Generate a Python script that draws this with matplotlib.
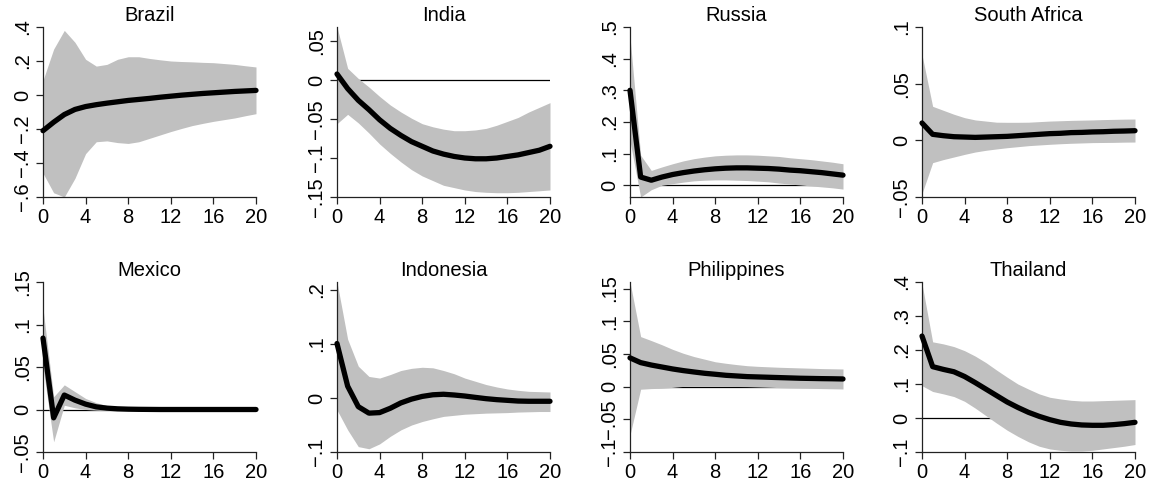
import numpy as np
import matplotlib
matplotlib.use("Agg")
import matplotlib.pyplot as plt
from matplotlib.ticker import FixedLocator, FuncFormatter

plt.rcParams["font.family"] = ["Liberation Sans", "DejaVu Sans"]

# ── Data ─────────────────────────────────────────────────────────────────────
horizon = np.arange(21)

countries = ["Brazil", "India", "Russia", "South Africa",
             "Mexico", "Indonesia", "Philippines", "Thailand"]

brazil_irf = [-0.21, -0.16, -0.115, -0.085, -0.068, -0.057, -0.048, -0.040, -0.032, -0.026, -0.020,
              -0.013, -0.007, -0.001, 0.004, 0.009, 0.013, 0.017, 0.021, 0.024, 0.027]
brazil_hi = [0.086, 0.27, 0.38, 0.31, 0.21, 0.17, 0.18, 0.21, 0.225, 0.225, 0.215,
             0.207, 0.20, 0.197, 0.195, 0.192, 0.19, 0.185, 0.18, 0.172, 0.165]
brazil_lo = [-0.46, -0.575, -0.60, -0.49, -0.345, -0.275, -0.27, -0.28, -0.285, -0.275, -0.255,
             -0.235, -0.215, -0.197, -0.18, -0.167, -0.155, -0.145, -0.135, -0.122, -0.11]

india_irf = [0.0077, -0.011, -0.026, -0.038, -0.051, -0.062, -0.071, -0.079, -0.085, -0.091, -0.095,
             -0.098, -0.100, -0.101, -0.101, -0.100, -0.098, -0.096, -0.093, -0.090, -0.085]
india_hi = [0.068, 0.015, 0.002, -0.009, -0.021, -0.032, -0.041, -0.049, -0.056, -0.060, -0.063,
            -0.065, -0.065, -0.064, -0.062, -0.058, -0.053, -0.048, -0.041, -0.035, -0.029]
india_lo = [-0.056, -0.044, -0.055, -0.068, -0.082, -0.094, -0.105, -0.115, -0.123, -0.129, -0.135,
            -0.138, -0.141, -0.143, -0.144, -0.1445, -0.1445, -0.144, -0.143, -0.142, -0.141]

russia_irf = [0.30, 0.026, 0.016, 0.026, 0.034, 0.040, 0.045, 0.049, 0.052, 0.054, 0.055,
              0.055, 0.054, 0.053, 0.051, 0.048, 0.046, 0.043, 0.040, 0.036, 0.032]
russia_hi = [0.47, 0.095, 0.047, 0.058, 0.068, 0.077, 0.084, 0.089, 0.093, 0.095, 0.096,
             0.096, 0.095, 0.093, 0.091, 0.087, 0.084, 0.081, 0.077, 0.073, 0.068]
russia_lo = [0.14, -0.037, -0.014, 0.0, 0.005, 0.010, 0.014, 0.016, 0.017, 0.017, 0.016,
             0.015, 0.013, 0.011, 0.007, 0.004, 0.001, -0.002, -0.005, -0.008, -0.012]

safrica_irf = [0.0153, 0.0053, 0.0041, 0.0032, 0.0029, 0.0026, 0.0029, 0.0032, 0.0035, 0.0041, 0.0047,
               0.0053, 0.0059, 0.0062, 0.0068, 0.0070, 0.0074, 0.0076, 0.0080, 0.0082, 0.0085]
safrica_hi = [0.0756, 0.030, 0.0265, 0.023, 0.020, 0.018, 0.017, 0.016, 0.0159, 0.0159, 0.016,
              0.0165, 0.017, 0.0173, 0.0176, 0.0178, 0.018, 0.0183, 0.0185, 0.0187, 0.0188]
safrica_lo = [-0.047, -0.0197, -0.017, -0.0147, -0.0124, -0.0103, -0.0088, -0.0076, -0.0065, -0.0056, -0.0047,
              -0.0041, -0.0035, -0.0030, -0.0026, -0.0023, -0.0020, -0.0019, -0.0018, -0.0016, -0.0015]

mexico_irf = [0.084, -0.0098, 0.017, 0.011, 0.0063, 0.0031, 0.0016, 0.0008, 0.0004, 0.0002, 0.0001,
              0.0, 0.0, 0.0, 0.0, 0.0, 0.0, 0.0, 0.0, 0.0, 0.0]
mexico_hi = [0.119, 0.015, 0.029, 0.021, 0.013, 0.008, 0.0047, 0.003, 0.002, 0.0012, 0.0008,
             0.0006, 0.0005, 0.0004, 0.0004, 0.0003, 0.0003, 0.0003, 0.0003, 0.0003, 0.0003]
mexico_lo = [0.050, -0.038, 0.005, 0.002, 0.0, -0.0008, -0.0012, -0.0012, -0.001, -0.0008, -0.0006,
             -0.0005, -0.0004, -0.0004, -0.0003, -0.0003, -0.0003, -0.0003, -0.0003, -0.0003, -0.0003]

indonesia_irf = [0.101, 0.022, -0.016, -0.028, -0.027, -0.019, -0.009, -0.002, 0.003, 0.006, 0.007,
                 0.0056, 0.0037, 0.0012, -0.0012, -0.003, -0.0043, -0.0056, -0.006, -0.006, -0.006]
indonesia_hi = [0.215, 0.109, 0.059, 0.040, 0.037, 0.0435, 0.051, 0.055, 0.057, 0.056, 0.051,
                0.045, 0.037, 0.031, 0.025, 0.0205, 0.0168, 0.0143, 0.0124, 0.0118, 0.0112]
indonesia_lo = [-0.022, -0.059, -0.090, -0.094, -0.085, -0.071, -0.059, -0.050, -0.0435, -0.0385, -0.034,
                -0.032, -0.030, -0.029, -0.028, -0.0275, -0.027, -0.026, -0.0255, -0.025, -0.025]

philippines_irf = [0.044, 0.0367, 0.033, 0.030, 0.027, 0.0245, 0.0224, 0.0204, 0.0189, 0.0173, 0.0163,
                   0.0153, 0.0148, 0.0143, 0.0138, 0.0133, 0.0128, 0.0125, 0.0122, 0.0120, 0.0117]
philippines_hi = [0.160, 0.0765, 0.0704, 0.064, 0.057, 0.051, 0.046, 0.042, 0.038, 0.0357, 0.0337,
                  0.032, 0.031, 0.0303, 0.0296, 0.0291, 0.0286, 0.0281, 0.0276, 0.0273, 0.027]
philippines_lo = [-0.074, -0.004, -0.003, -0.0025, -0.0012, 0.0003, 0.0005, 0.0005, 0.0005, 0.0004, 0.0002,
                  0.0, -0.0005, -0.001, -0.0015, -0.002, -0.0023, -0.0026, -0.003, -0.0033, -0.0036]

thailand_irf = [0.241, 0.151, 0.143, 0.136, 0.122, 0.104, 0.085, 0.066, 0.047, 0.031, 0.0166,
                0.0049, -0.0049, -0.0127, -0.0176, -0.0205, -0.0215, -0.0215, -0.0195, -0.0166, -0.0127]
thailand_hi = [0.395, 0.224, 0.218, 0.210, 0.198, 0.182, 0.163, 0.141, 0.120, 0.100, 0.085,
               0.071, 0.061, 0.056, 0.052, 0.050, 0.050, 0.051, 0.052, 0.053, 0.054]
thailand_lo = [0.095, 0.078, 0.071, 0.063, 0.049, 0.029, 0.007, -0.015, -0.036, -0.054, -0.070,
               -0.083, -0.091, -0.095, -0.097, -0.097, -0.095, -0.091, -0.087, -0.083, -0.078]

irfs = [brazil_irf, india_irf, russia_irf, safrica_irf,
        mexico_irf, indonesia_irf, philippines_irf, thailand_irf]
uppers = [brazil_hi, india_hi, russia_hi, safrica_hi,
          mexico_hi, indonesia_hi, philippines_hi, thailand_hi]
lowers = [brazil_lo, india_lo, russia_lo, safrica_lo,
          mexico_lo, indonesia_lo, philippines_lo, thailand_lo]

yticks = [
    [-0.6, -0.4, -0.2, 0.0, 0.2, 0.4],
    [-0.15, -0.1, -0.05, 0.0, 0.05],
    [0.0, 0.1, 0.2, 0.3, 0.4, 0.5],
    [-0.05, 0.0, 0.05, 0.1],
    [-0.05, 0.0, 0.05, 0.1, 0.15],
    [-0.1, 0.0, 0.1, 0.2],
    [-0.1, -0.05, 0.0, 0.05, 0.1, 0.15],
    [-0.1, 0.0, 0.1, 0.2, 0.3, 0.4],
]
xticks = [0, 4, 8, 12, 16, 20]


# Stata-style tick labels: ".4", "-.05", "0"
def stata_fmt(v, pos=None):
    if abs(v) < 1e-12:
        return "0"
    s = f"{abs(v):g}"
    if s.startswith("0."):
        s = s[1:]
    return ("\u2212" if v < 0 else "") + s


# ── Layout (pixel boxes from the reference, 1155 x 483) ──────────────────────
W, H = 1155, 483
lefts = [43, 337, 630, 922]
tops = [27, 282]
ax_w, ax_h = 213, 170

fig = plt.figure(figsize=(W / 100, H / 100), dpi=100)

for i, name in enumerate(countries):
    r, c = divmod(i, 4)
    ax = fig.add_axes([lefts[c] / W, 1 - (tops[r] + ax_h) / H, ax_w / W, ax_h / H])

    irf = np.array(irfs[i])
    hi = np.array(uppers[i])
    lo = np.array(lowers[i])
    ticks = yticks[i]

    ax.axhline(0, color="black", lw=0.9, zorder=1)
    ax.fill_between(horizon, lo, hi, color="#c0c0c0", lw=0, zorder=2)
    ax.plot(horizon, irf, color="black", lw=3.8, solid_capstyle="round",
            solid_joinstyle="round", zorder=3, clip_on=False)

    ax.set_xlim(0, 20)
    ax.set_ylim(min(ticks[0], lo.min()), max(ticks[-1], hi.max()))

    ax.xaxis.set_major_locator(FixedLocator(xticks))
    ax.yaxis.set_major_locator(FixedLocator(ticks))
    ax.yaxis.set_major_formatter(FuncFormatter(stata_fmt))

    for side in ["top", "right"]:
        ax.spines[side].set_visible(False)
    for side in ["left", "bottom"]:
        ax.spines[side].set_linewidth(0.9)
        ax.spines[side].set_color("#222222")

    ax.tick_params(axis="both", direction="out", length=5, width=0.9,
                   color="#222222", labelsize=14.5, pad=3)
    plt.setp(ax.get_yticklabels(), rotation=90, va="center")

    ax.set_title(name, fontsize=14.5, pad=4.5)

fig.savefig("out.png", dpi=100, facecolor="white")
